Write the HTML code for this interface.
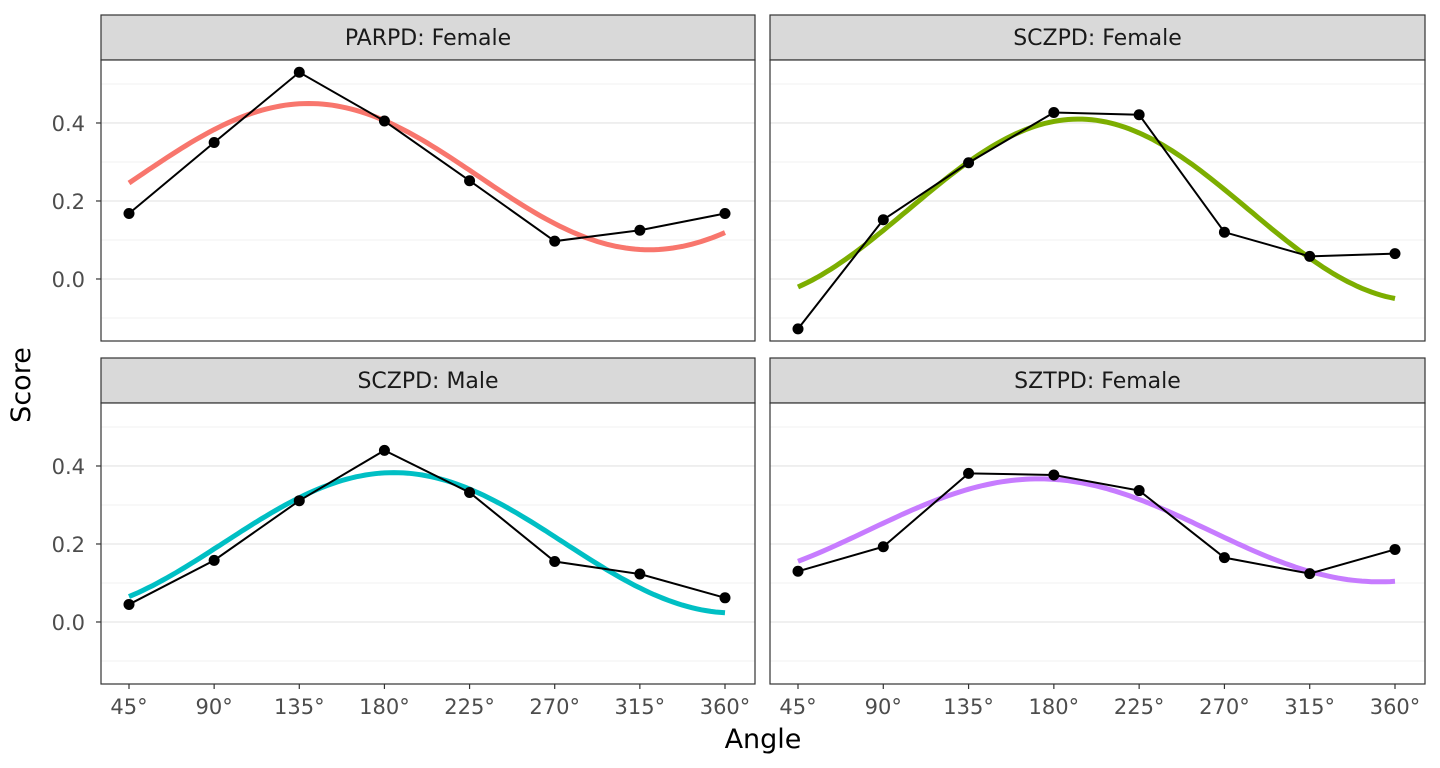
<!DOCTYPE html>
<html><head><meta charset="utf-8"><style>
body{margin:0;background:#fff;font-family:"DejaVu Sans","Liberation Sans",sans-serif}
svg{display:block;font-family:"DejaVu Sans","Liberation Sans",sans-serif}
</style></head><body>
<svg id="c" width="1440" height="768"></svg>
<script>
const angles=[45,90,135,180,225,270,315,360];
const panelTitles=["PARPD: Female","SCZPD: Female","SCZPD: Male","SZTPD: Female"];
const colors=["#F8766D","#7CAE00","#00BFC4","#C77CFF"];
const scoresParpdF=[0.168,0.35,0.53,0.405,0.252,0.097,0.125,0.168];
const scoresSczpdF=[-0.128,0.152,0.298,0.427,0.421,0.12,0.058,0.065];
const scoresSczpdM=[0.045,0.158,0.311,0.44,0.332,0.155,0.123,0.062];
const scoresSztpdF=[0.13,0.193,0.381,0.377,0.337,0.165,0.124,0.186];
const fitElev=[0.2625,0.177,0.203,0.235];
const fitAmp=[0.1875,0.233,0.18,0.132];
const fitDisp=[140,193,185,172];
const yTicks=[0,0.2,0.4];
const yTickLabels=["0.0","0.2","0.4"];
const xTickLabels=["45°","90°","135°","180°","225°","270°","315°","360°"];
const series=[scoresParpdF,scoresSczpdF,scoresSczpdM,scoresSztpdF];

const NS="http://www.w3.org/2000/svg";
const svg=document.getElementById('c');
function mk(t,a,p){const e=document.createElementNS(NS,t);for(const k in a)e.setAttribute(k,a[k]);(p||svg).appendChild(e);return e;}
const panels=[{x0:101,x1:755,top:15},{x0:770,x1:1425,top:15},{x0:101,x1:755,top:358},{x0:770,x1:1425,top:358}];
const yMin=-0.159,yMax=0.5615;
panels.forEach((P,i)=>{
  const g=mk('g',{});
  
  
  const st=P.top, pt=st+45, pb=pt+281;
  const xs=a=>P.x0+28+(a-45)/315*(P.x1-P.x0-58);
  const ys=v=>pb-(v-yMin)/(yMax-yMin)*(pb-pt);
  const s=mk('rect',{x:P.x0,y:st,width:P.x1-P.x0,height:45,fill:'#D9D9D9',stroke:'#333','stroke-width':1.2},g);
  
  
  const t=mk('text',{x:(P.x0+P.x1)/2,y:st+30,'text-anchor':'middle','font-size':22,fill:'#1A1A1A'},g);
  t.textContent=panelTitles[i];
  
  
  mk('rect',{x:P.x0,y:pt,width:P.x1-P.x0,height:pb-pt,fill:'#fff'},g);
  [-0.1,0.1,0.3,0.5].forEach(v=>mk('line',{x1:P.x0,x2:P.x1,y1:ys(v),y2:ys(v),stroke:'#EBEBEB','stroke-width':0.8},g));
  yTicks.forEach(v=>mk('line',{x1:P.x0,x2:P.x1,y1:ys(v),y2:ys(v),stroke:'#EBEBEB','stroke-width':1.6},g));
  let d='';
  for(let a=45;a<=360;a+=2.5){const v=fitElev[i]+fitAmp[i]*Math.cos((a-fitDisp[i])*Math.PI/180);d+=(d?'L':'M')+xs(a).toFixed(1)+','+ys(v).toFixed(1);}
  const c=mk('path',{d:d,fill:'none',stroke:colors[i],'stroke-width':5},g);
  
  
  const pd=series[i].map((v,k)=>(k?'L':'M')+xs(angles[k])+','+ys(v)).join('');
  const l=mk('path',{d:pd,fill:'none',stroke:'#000','stroke-width':2},g);
  
  
  series[i].forEach((v,k)=>{const p=mk('circle',{cx:xs(angles[k]),cy:ys(v),r:5.5,fill:'#000'},g);
    
    });
  mk('rect',{x:P.x0,y:pt,width:P.x1-P.x0,height:pb-pt,fill:'none',stroke:'#333','stroke-width':1.2},g);
  if(i%2==0){yTicks.forEach((v,k)=>{mk('line',{x1:P.x0-5,x2:P.x0,y1:ys(v),y2:ys(v),stroke:'#333','stroke-width':1.2},g);
    const tl=mk('text',{x:P.x0-16,y:ys(v)+8,'text-anchor':'end','font-size':21,fill:'#4D4D4D'},g);tl.textContent=yTickLabels[k];
    
    });}
  if(i>=2){angles.forEach((a,k)=>{mk('line',{x1:xs(a),x2:xs(a),y1:pb,y2:pb+5,stroke:'#333','stroke-width':1.2},g);
    const tl=mk('text',{x:xs(a),y:pb+30,'text-anchor':'middle','font-size':21,fill:'#4D4D4D'},g);tl.textContent=xTickLabels[k];
    
    });}
});
const xt=mk('text',{x:763,y:748,'text-anchor':'middle','font-size':27,fill:'#000'});xt.textContent='Angle';


const yt=mk('text',{x:30,y:385,'text-anchor':'middle','font-size':27,fill:'#000',transform:'rotate(-90 30 385)'});yt.textContent='Score';


</script>
</body></html>
